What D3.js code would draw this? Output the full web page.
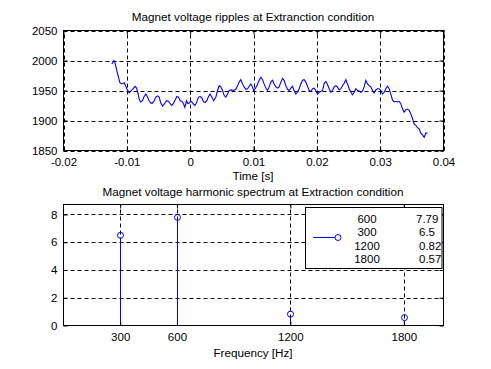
<!DOCTYPE html>
<html>
<head>
<meta charset="utf-8">
<script src="https://cdn.jsdelivr.net/npm/d3@7"></script>
<style>
	body { margin: 0; background: #fff; }
	svg text { font-family: "Liberation Sans", Arial, sans-serif; fill: #000; }
</style>
</head>
<body>
<div id="chart"></div>
<script>

// ripple trace
var timeS = [-0.01237,-0.01205,-0.01189,-0.01158,-0.01131,-0.01110,-0.01079,-0.01042,-0.01016,-0.01000,
	-0.00963,-0.00937,-0.00910,-0.00869,-0.00847,-0.00826,-0.00806,-0.00784,-0.00752,-0.00727,
	-0.00700,-0.00673,-0.00648,-0.00621,-0.00594,-0.00569,-0.00542,-0.00515,-0.00490,-0.00463,
	-0.00436,-0.00405,-0.00373,-0.00342,-0.00316,-0.00289,-0.00263,-0.00237,-0.00210,-0.00184,
	-0.00158,-0.00132,-0.00105,-0.00084,-0.00057,-0.00037,-0.00016,0.00011,0.00026,0.00053,
	0.00078,0.00105,0.00132,0.00157,0.00184,0.00211,0.00236,0.00263,0.00290,0.00315,
	0.00342,0.00369,0.00406,0.00432,0.00458,0.00484,0.00511,0.00536,0.00563,0.00590,
	0.00615,0.00653,0.00685,0.00721,0.00748,0.00773,0.00800,0.00827,0.00852,0.00879,
	0.00906,0.00931,0.00958,0.00985,0.01000,0.01026,0.01053,0.01089,0.01116,0.01143,
	0.01168,0.01195,0.01222,0.01247,0.01274,0.01301,0.01326,0.01353,0.01379,0.01405,
	0.01432,0.01458,0.01484,0.01511,0.01537,0.01563,0.01589,0.01616,0.01642,0.01668,
	0.01695,0.01721,0.01747,0.01774,0.01800,0.01826,0.01853,0.01879,0.01905,0.01932,
	0.01958,0.01984,0.02011,0.02037,0.02090,0.02116,0.02142,0.02168,0.02195,0.02221,
	0.02247,0.02274,0.02300,0.02326,0.02353,0.02379,0.02405,0.02432,0.02458,0.02484,
	0.02511,0.02537,0.02563,0.02590,0.02616,0.02642,0.02668,0.02695,0.02721,0.02747,
	0.02774,0.02800,0.02826,0.02853,0.02879,0.02905,0.02932,0.02958,0.02984,0.03011,
	0.03037,0.03063,0.03089,0.03116,0.03142,0.03168,0.03195,0.03221,0.03247,0.03274,
	0.03300,0.03326,0.03353,0.03379,0.03405,0.03432,0.03458,0.03484,0.03511,0.03537,
	0.03563,0.03590,0.03616,0.03642,0.03668,0.03695,0.03721,0.03748];

var voltage = [1994,2000,1997,1983,1972,1963,1961,1963,1957,1953,
	1946,1949,1952,1957,1954,1947,1936,1931,1933,1940,
	1944,1939,1933,1929,1929,1933,1939,1941,1939,1929,
	1924,1928,1933,1932,1928,1925,1929,1934,1940,1939,
	1933,1932,1928,1922,1933,1928,1929,1932,1931,1927,
	1925,1931,1939,1940,1938,1931,1930,1933,1940,1944,
	1939,1933,1939,1950,1958,1956,1950,1942,1939,1944,
	1950,1951,1950,1952,1958,1964,1968,1961,1956,1952,
	1953,1957,1961,1956,1950,1953,1958,1967,1972,1968,
	1961,1954,1950,1956,1964,1967,1961,1956,1954,1956,
	1964,1970,1967,1958,1952,1950,1954,1957,1950,1944,
	1947,1953,1961,1967,1968,1964,1957,1950,1948,1953,
	1954,1950,1944,1947,1950,1962,1965,1960,1953,1947,
	1950,1956,1958,1956,1951,1953,1958,1962,1968,1961,
	1953,1947,1943,1947,1953,1950,1949,1947,1949,1956,
	1967,1961,1958,1956,1950,1946,1951,1953,1953,1950,
	1944,1947,1953,1957,1953,1944,1934,1931,1932,1931,
	1932,1928,1919,1914,1918,1919,1917,1911,1903,1894,
	1892,1888,1886,1879,1876,1872,1879,1879];

var timeTicks = [-0.02, -0.01, 0, 0.01, 0.02, 0.03, 0.04];
var timeTickLabels = ["-0.02", "-0.01", "0", "0.01", "0.02", "0.03", "0.04"];
var voltTicks = [1850, 1900, 1950, 2000, 2050];

// harmonic spectrum
var freqHz = [300, 600, 1200, 1800];
var amplitude = [6.5, 7.79, 0.82, 0.57];
var freqTicks = [300, 600, 1200, 1800];
var ampTicks = [0, 2, 4, 6, 8];

// legend rows (sorted by amplitude as in the figure)
var legendFreq = ["600", "300", "1200", "1800"];
var legendAmp = ["7.79", "6.5", "0.82", "0.57"];

var W = 491, H = 369;
var blue = "#0000ff";
var tickFont = "11.5px";

var svg = d3.select("#chart").append("svg")
	.attr("width", W)
	.attr("height", H);

function drawGrid(g, x, y, xt, yt){
	var x0 = x.range()[0], x1 = x.range()[1];
	var y0 = y.range()[0], y1 = y.range()[1];
	g.selectAll(".vgrid").data(xt).enter().append("line")
		.attr("x1", function(d){ return Math.round(x(d)) + 0.5; })
		.attr("x2", function(d){ return Math.round(x(d)) + 0.5; })
		.attr("y1", y0).attr("y2", y1)
		.attr("stroke", "#000").attr("stroke-dasharray", "4,3");
	g.selectAll(".hgrid").data(yt).enter().append("line")
		.attr("y1", function(d){ return Math.round(y(d)) + 0.5; })
		.attr("y2", function(d){ return Math.round(y(d)) + 0.5; })
		.attr("x1", x0).attr("x2", x1)
		.attr("stroke", "#000").attr("stroke-dasharray", "4,3");
}

function drawFrame(g, x, y, xt, yt, xfmt){
	var x0 = x.range()[0], x1 = x.range()[1];
	var y0 = y.range()[0], y1 = y.range()[1];

	// matlab style: ticks pointing inwards on all four sides, labels bottom/left only
	var ax = d3.axisBottom(x).tickValues(xt).tickSizeInner(-4).tickSizeOuter(0).tickPadding(7).tickFormat(xfmt);
	var ay = d3.axisLeft(y).tickValues(yt).tickSizeInner(-4).tickSizeOuter(0).tickPadding(6).tickFormat(d3.format("d"));
	var axTop = d3.axisTop(x).tickValues(xt).tickSizeInner(-4).tickSizeOuter(0).tickFormat("");
	var ayRight = d3.axisRight(y).tickValues(yt).tickSizeInner(-4).tickSizeOuter(0).tickFormat("");

	var axes = [
		g.append("g").attr("transform", "translate(0," + y0 + ")").call(ax),
		g.append("g").attr("transform", "translate(" + x0 + ",0)").call(ay),
		g.append("g").attr("transform", "translate(0," + y1 + ")").call(axTop),
		g.append("g").attr("transform", "translate(" + x1 + ",0)").call(ayRight)
	];
	axes.forEach(function(a){
		a.select(".domain").remove();
		a.selectAll("text").style("font-size", tickFont).attr("fill", "#000");
		a.selectAll("line").attr("stroke", "#000");
	});

	g.append("rect")
		.attr("x", x0).attr("y", y1)
		.attr("width", x1 - x0).attr("height", y0 - y1)
		.attr("fill", "none").attr("stroke", "#000");
}

// ---- top panel ----
var xT = d3.scaleLinear().domain([-0.02, 0.04]).range([63.5, 443.5]);
var yT = d3.scaleLinear().domain([1850, 2050]).range([150.5, 30.5]);
var topPanel = svg.append("g");

drawGrid(topPanel, xT, yT, timeTicks, voltTicks);

var ripple = timeS.map(function(t, i){ return [t, voltage[i]]; });
topPanel.append("path")
	.datum(ripple)
	.attr("d", d3.line().x(function(d){ return xT(d[0]); }).y(function(d){ return yT(d[1]); }))
	.attr("fill", "none")
	.attr("stroke", blue)
	.attr("stroke-width", 1.1);

drawFrame(topPanel, xT, yT, timeTicks, voltTicks, function(d, i){ return timeTickLabels[i]; });

topPanel.append("text")
	.attr("x", 253).attr("y", 21)
	.attr("text-anchor", "middle")
	.style("font-size", "11.7px")
	.text("Magnet voltage ripples at Extranction condition");
topPanel.append("text")
	.attr("x", 253).attr("y", 179.5)
	.attr("text-anchor", "middle")
	.style("font-size", "11.7px")
	.text("Time [s]");

// ---- bottom panel ----
var xB = d3.scaleLinear().domain([0, 2010]).range([63.5, 443.5]);
var yB = d3.scaleLinear().domain([0, 8.72]).range([325.5, 204.5]);
var botPanel = svg.append("g");

drawGrid(botPanel, xB, yB, freqTicks, ampTicks.slice(1));

var stems = botPanel.selectAll(".stem").data(freqHz).enter().append("g");
stems.append("line")
	.attr("x1", function(d){ return Math.round(xB(d)) + 0.5; })
	.attr("x2", function(d){ return Math.round(xB(d)) + 0.5; })
	.attr("y1", yB(0))
	.attr("y2", function(d, i){ return yB(amplitude[i]) + 3; })
	.attr("stroke", blue);
stems.append("circle")
	.attr("cx", function(d){ return Math.round(xB(d)) + 0.5; })
	.attr("cy", function(d, i){ return yB(amplitude[i]); })
	.attr("r", 3)
	.attr("fill", "none")
	.attr("stroke", blue);

drawFrame(botPanel, xB, yB, freqTicks, ampTicks, d3.format("d"));

botPanel.append("text")
	.attr("x", 253).attr("y", 195.5)
	.attr("text-anchor", "middle")
	.style("font-size", "11.7px")
	.text("Magnet voltage harmonic spectrum at Extraction condition");
botPanel.append("text")
	.attr("x", 253).attr("y", 356.5)
	.attr("text-anchor", "middle")
	.style("font-size", "11.7px")
	.text("Frequency [Hz]");

// legend
var leg = botPanel.append("g");
leg.append("rect")
	.attr("x", 305.5).attr("y", 207.5)
	.attr("width", 136.5).attr("height", 61)
	.attr("fill", "#fff").attr("stroke", "#000");
leg.append("line")
	.attr("x1", 313).attr("x2", 335)
	.attr("y1", 237.5).attr("y2", 237.5)
	.attr("stroke", blue);
leg.append("circle")
	.attr("cx", 338).attr("cy", 237.5).attr("r", 3)
	.attr("fill", "none").attr("stroke", blue);
leg.selectAll(".lf").data(legendFreq).enter().append("text")
	.attr("x", 367)
	.attr("y", function(d, i){ return 222.5 + i * 13.6; })
	.attr("text-anchor", "middle")
	.style("font-size", tickFont)
	.text(function(d){ return d; });
leg.selectAll(".la").data(legendAmp).enter().append("text")
	.attr("x", function(d, i){ return i == 0 ? 416 : 419; })
	.attr("y", function(d, i){ return 222.5 + i * 13.6; })
	.style("font-size", tickFont)
	.text(function(d){ return d; });

</script>
</body>
</html>
